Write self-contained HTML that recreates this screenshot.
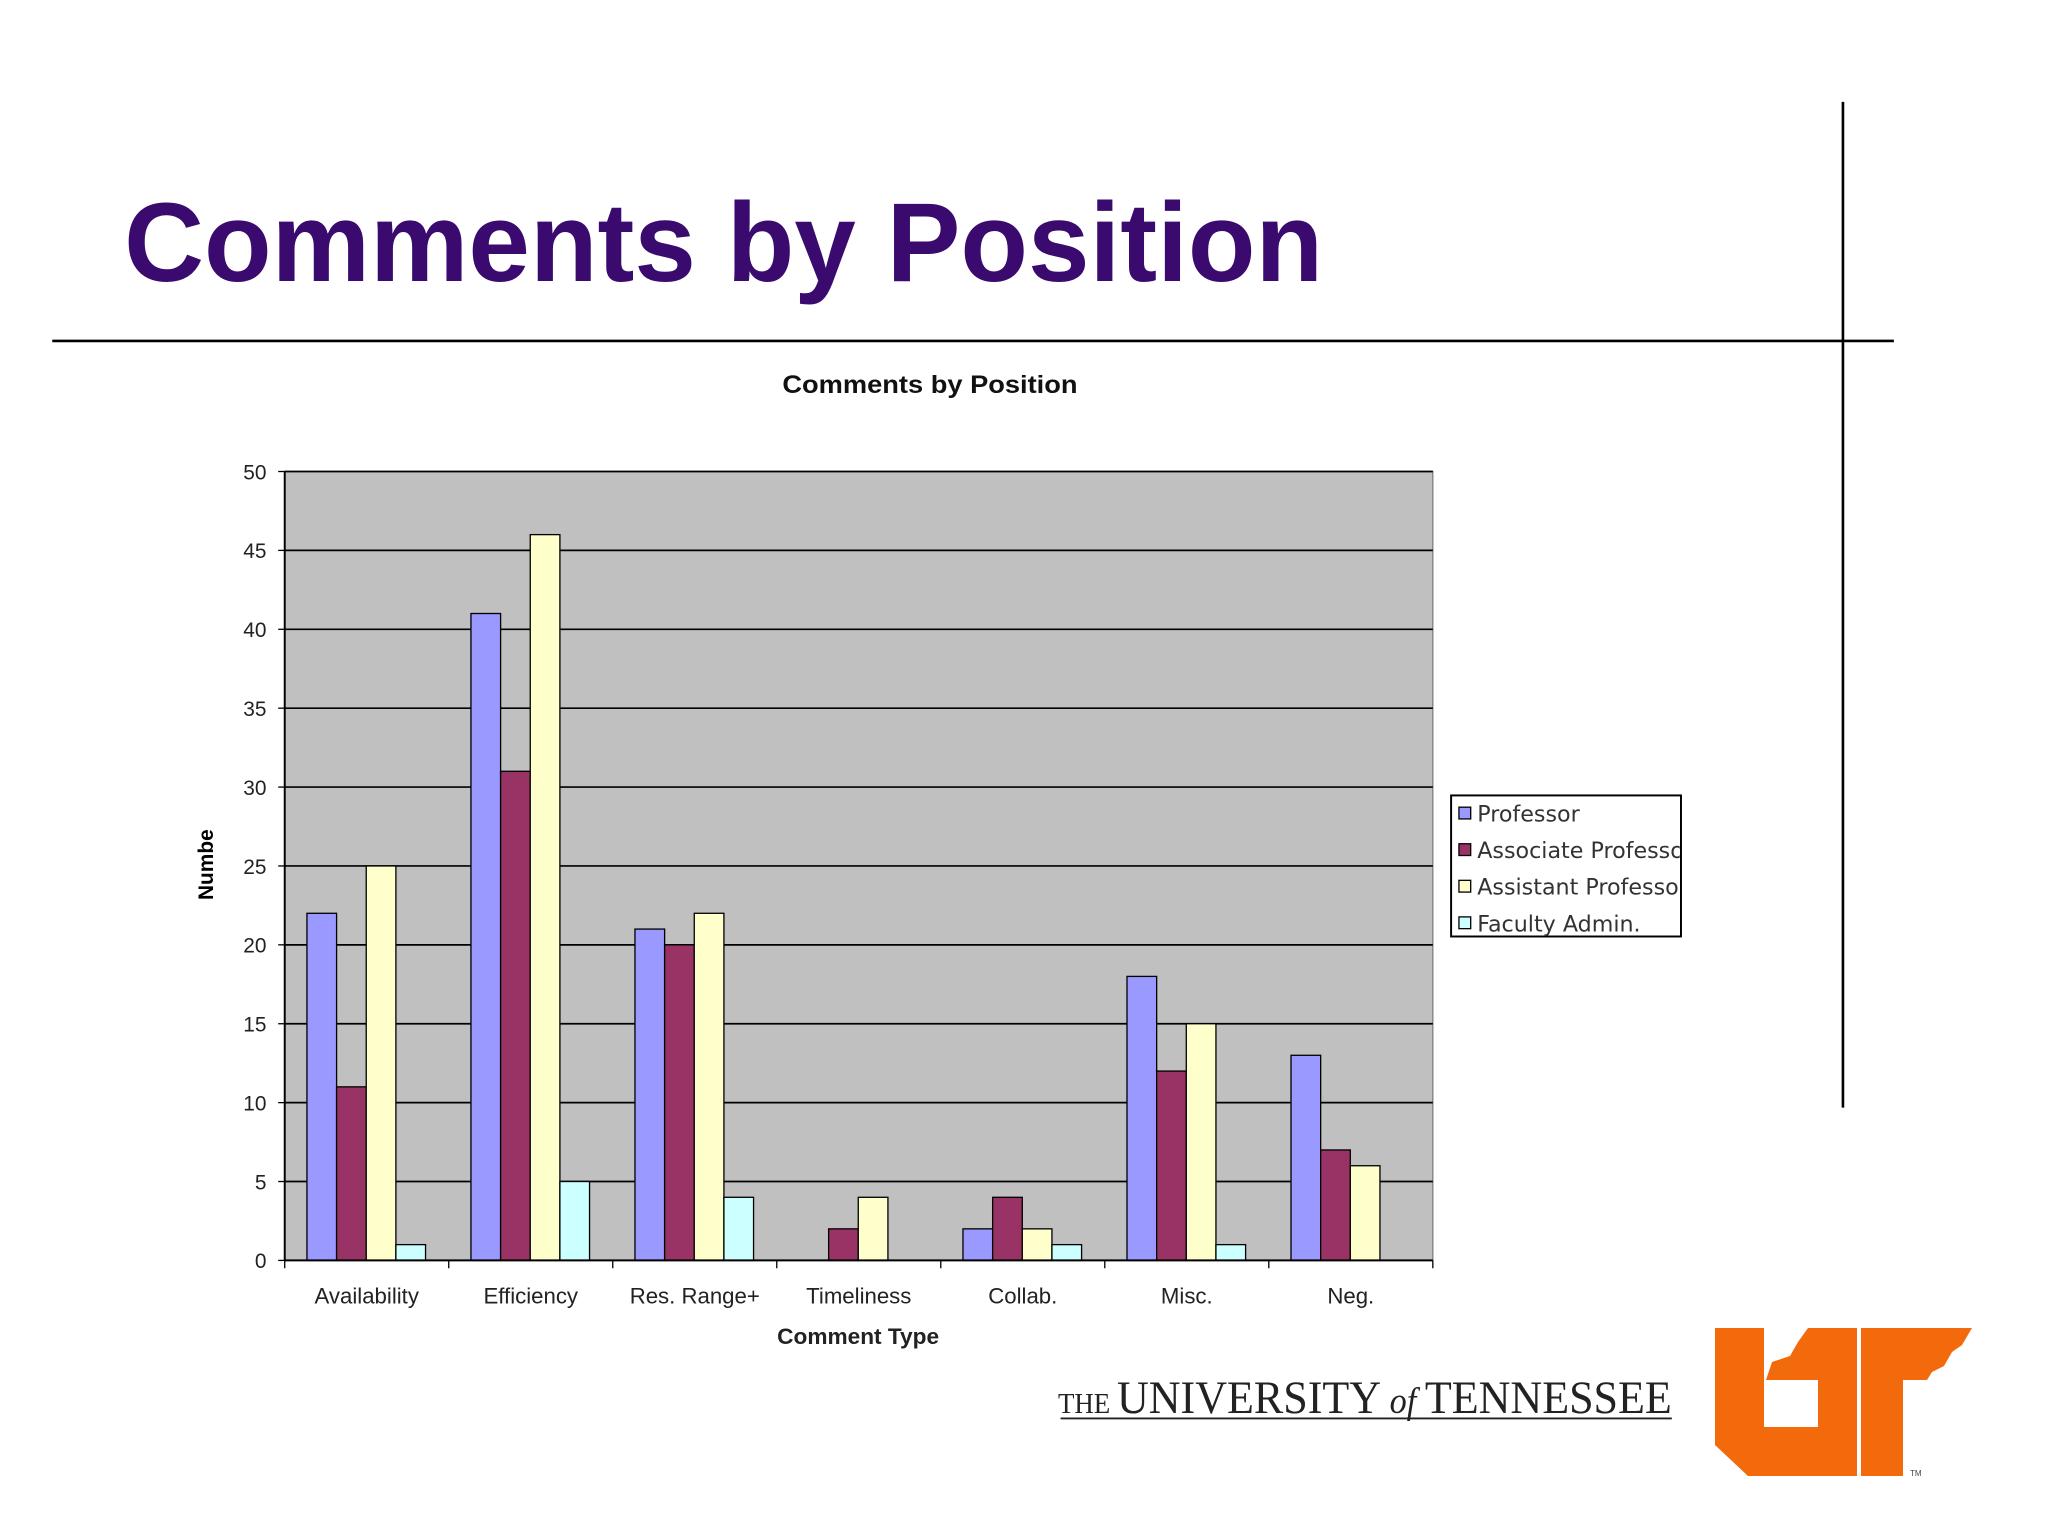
<!DOCTYPE html>
<html><head><meta charset="utf-8"><style>
html,body{margin:0;padding:0;background:#fff;}
svg{display:block;}
</style></head><body>
<svg id="slide" width="2048" height="1536" viewBox="0 0 1568 1176" xmlns="http://www.w3.org/2000/svg" font-family="Liberation Sans, sans-serif">
<defs><clipPath id="lc"><rect x="1111" y="609" width="175" height="108"/></clipPath></defs>
<rect width="1568" height="1176" fill="#fff"/>
<text x="95" y="215" font-size="86" font-weight="bold" fill="#3a0a6e" textLength="918" lengthAdjust="spacingAndGlyphs">Comments by Position</text>
<line x1="40" y1="261" x2="1450" y2="261" stroke="#000" stroke-width="2"/>
<line x1="1411" y1="78" x2="1411" y2="848" stroke="#000" stroke-width="2"/>
<text x="712" y="301" font-size="19" font-weight="bold" text-anchor="middle" fill="#111" textLength="226" lengthAdjust="spacingAndGlyphs">Comments by Position</text>
<rect x="218" y="361" width="879" height="604" fill="#c0c0c0" stroke="#808080"/>
<g id="grid"></g><g id="bars"></g><g id="axes"></g>
<text transform="translate(163,662) rotate(-90)" font-size="16" font-weight="bold" text-anchor="middle">Numbe</text>
<text x="657" y="1029" font-size="17" font-weight="bold" text-anchor="middle" fill="#222" textLength="124" lengthAdjust="spacingAndGlyphs">Comment Type</text>
<g>
<rect x="1111" y="609" width="176" height="108" fill="#fff" stroke="#000" stroke-width="1.5"/>
<g id="legend-items" clip-path="url(#lc)"></g>
</g>
<g>
<text x="810" y="1082" font-family="Liberation Serif, serif" font-size="36" fill="#222" textLength="470" lengthAdjust="spacingAndGlyphs"><tspan font-size="22">THE </tspan>UNIVERSITY<tspan font-style="italic" font-size="28"> of </tspan>TENNESSEE</text>
<line x1="812" y1="1086" x2="1280" y2="1086" stroke="#222" stroke-width="1.5"/>
</g>
<g transform="scale(0.765625)" fill="#f26a0c">
<polygon points="1715,1328 1764,1328 1764,1427 1818,1427 1818,1380 1766,1380 1772,1362 1790,1356 1798,1342 1808,1328 1857,1328 1857,1476 1748,1476 1715,1445"/>
<polygon points="1861,1328 1972,1328 1962,1345 1952,1352 1944,1366 1932,1372 1927,1380 1903,1380 1903,1476 1861,1476"/>
<text x="1910" y="1476" font-size="8" fill="#444">TM</text>
</g>
</svg>
<script>
const categories=["Availability","Efficiency","Res. Range+","Timeliness","Collab.","Misc.","Neg."];
const seriesNames=["Professor","Associate Professor","Assistant Professor","Faculty Admin."];
const professor=[22,41,21,0,2,18,13];
const associate=[11,31,20,2,4,12,7];
const assistant=[25,46,22,4,2,15,6];
const facultyAdmin=[1,5,4,0,1,1,0];
const yTicks=[0,5,10,15,20,25,30,35,40,45,50];
const colors=["#9999ff","#993366","#ffffcc","#ccffff"];
const NS="http://www.w3.org/2000/svg";
const X0=218,X1=1097,Y0=965,Y1=361,YMAX=50;
const y=v=>Y0-(v/YMAX)*(Y0-Y1);
const catW=(X1-X0)/categories.length;
const xCat=i=>X0+i*catW;
function mk(tag,attrs,parent){const e=document.createElementNS(NS,tag);for(const k in attrs)e.setAttribute(k,attrs[k]);parent.appendChild(e);return e;}
const grid=document.getElementById('grid'),bars=document.getElementById('bars'),axes=document.getElementById('axes');
yTicks.forEach(t=>{
  if(t>0){const l=mk('line',{x1:X0,x2:X1,y1:y(t),y2:y(t),stroke:'#000','stroke-width':1.3},grid);
  
  }
  const tk=mk('line',{x1:X0-5,x2:X0,y1:y(t),y2:y(t),stroke:'#000'},axes);
  
  
  const tx=mk('text',{x:X0-14,y:y(t)+6,'font-size':16,'text-anchor':'end',fill:'#222'},axes);
  tx.textContent=t;
  
  
});
mk('line',{x1:X0,x2:X0,y1:Y1,y2:Y0,stroke:'#000','stroke-width':1.5},axes);
mk('line',{x1:X0,x2:X1,y1:Y0,y2:Y0,stroke:'#000','stroke-width':1.5},axes);
const series=[professor,associate,assistant,facultyAdmin];
const bw=22.7,off=17;
categories.forEach((c,i)=>{
  series.forEach((s,j)=>{
    if(s[i]<=0)return;
    const r=mk('rect',{x:xCat(i)+off+j*bw,y:y(s[i]),width:bw,height:Y0-y(s[i]),fill:colors[j],stroke:'#000','stroke-width':1},bars);
    
    
  });
  const tk=mk('line',{x1:xCat(i+1),x2:xCat(i+1),y1:Y0,y2:Y0+6,stroke:'#000'},axes);
  
  
  const tx=mk('text',{x:xCat(i)+catW/2,y:998,'font-size':17,'text-anchor':'middle',fill:'#222'},axes);
  tx.textContent=c;
  
  
});
mk('line',{x1:X0,x2:X0,y1:Y0,y2:Y0+6,stroke:'#000'},axes);
const li=document.getElementById('legend-items');
seriesNames.forEach((n,j)=>{
  const yy=623+j*28;
  const sw=mk('rect',{x:1117,y:yy-5,width:9,height:9,fill:colors[j],stroke:'#000'},li);
  
  
  const t=mk('text',{x:1131,y:yy+6,'font-size':17,fill:'#333','font-family':'DejaVu Sans, sans-serif'},li);
  t.textContent=n;
  
  
});
</script>
</body></html>
